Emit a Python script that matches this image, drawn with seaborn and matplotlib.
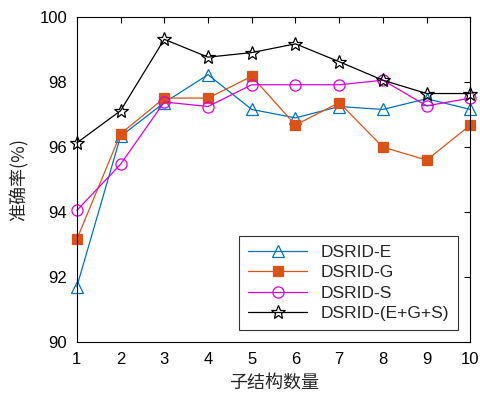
import pandas as pd
import numpy as np
import matplotlib
matplotlib.use("Agg")
import matplotlib.pyplot as plt
import seaborn as sns

# Accuracy vs number of sub-structures
n_sub = [1, 2, 3, 4, 5, 6, 7, 8, 9, 10]
acc_e = [91.7, 96.33, 97.37, 98.23, 97.16, 96.9, 97.25, 97.16, 97.49, 97.16]
acc_g = [93.16, 96.41, 97.51, 97.51, 98.18, 96.68, 97.37, 96.0, 95.6, 96.68]
acc_s = [94.05, 95.47, 97.39, 97.25, 97.92, 97.92, 97.92, 98.06, 97.27, 97.51]
acc_egs = [96.13, 97.12, 99.32, 98.77, 98.91, 99.18, 98.63, 98.06, 97.65, 97.65]

series = ["DSRID-E", "DSRID-G", "DSRID-S", "DSRID-(E+G+S)"]
colors = ["#0072BD", "#D95319", "#D900D9", "black"]
markers = ["^", "s", "o", "*"]

df = pd.DataFrame({
    "n": n_sub * 4,
    "acc": acc_e + acc_g + acc_s + acc_egs,
    "model": sum([[s] * len(n_sub) for s in series], []),
})

sns.set_style("white")
plt.rcParams["font.family"] = ["Liberation Sans", "Noto Sans CJK SC", "DejaVu Sans"]

fig, ax = plt.subplots(figsize=(4.8, 4.0), dpi=100)
fig.subplots_adjust(left=0.16, right=0.98, top=0.957, bottom=0.145)

for name, c, m in zip(series, colors, markers):
    sub = df[df["model"] == name]
    face = c if m == "s" else "none"
    ms = {"*": 10, "s": 7, "^": 9, "o": 8}[m]
    sns.lineplot(data=sub, x="n", y="acc", ax=ax, color=c, marker=m,
                 markersize=ms, markerfacecolor=face, markeredgecolor=c,
                 markeredgewidth=0.9, linewidth=0.9, label=name, clip_on=False)

ax.set_xlim(1, 10)
ax.set_ylim(90, 100)
ax.set_xticks(n_sub)
ax.set_yticks([90, 92, 94, 96, 98, 100])
ax.tick_params(direction="in", top=True, right=True, labelsize=12,
               length=4, width=0.8, colors="black", pad=7)
for sp in ax.spines.values():
    sp.set_color("black")
    sp.set_linewidth(0.8)
ax.set_xlabel("子结构数量", fontsize=13, family=["Noto Sans CJK SC"], labelpad=5)
ax.set_ylabel("准确率(%)", fontsize=13, family=["Noto Sans CJK SC", "DejaVu Sans"], labelpad=8)

leg = ax.legend(loc="lower right", fontsize=12.5, frameon=True, fancybox=False,
                edgecolor="black", borderaxespad=0.7, handlelength=3.4,
                labelspacing=0.3, borderpad=0.5)
leg.get_frame().set_linewidth(0.8)

fig.savefig("out.png", dpi=100)
